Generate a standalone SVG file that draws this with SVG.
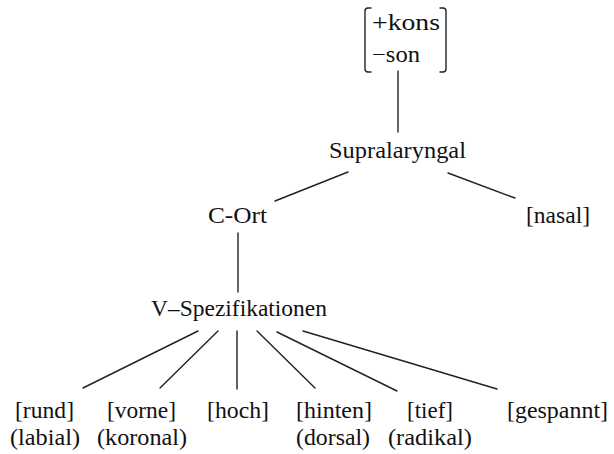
<svg xmlns="http://www.w3.org/2000/svg" width="614" height="454" viewBox="0 0 614 454">
  <style>
    text { font-family: "Liberation Serif", "Times New Roman", serif; font-size: 22.5px; fill: #111; }
    .edge { stroke: #222; stroke-width: 1.4; fill: none; stroke-linecap: round; }
  </style>
  <rect width="614" height="454" fill="#fff"/>

  <g id="connectors">
    <line class="edge" x1="398" y1="71" x2="398" y2="132"/>
    <line class="edge" x1="348" y1="172" x2="275" y2="201"/>
    <line class="edge" x1="448" y1="173" x2="515" y2="198"/>
    <line class="edge" x1="238" y1="233" x2="238" y2="292"/>
    <line class="edge" x1="198" y1="331" x2="83" y2="388"/>
    <line class="edge" x1="218" y1="331" x2="160" y2="388"/>
    <line class="edge" x1="237" y1="331" x2="237" y2="389"/>
    <line class="edge" x1="257" y1="331" x2="315" y2="388"/>
    <line class="edge" x1="277" y1="332" x2="397" y2="391"/>
    <line class="edge" x1="303" y1="331" x2="497" y2="389"/>
  </g>

  <g id="matrix">
    <path class="edge" d="M371 8 H368 Q365 8 365 11 V69 Q365 72 368 72 H371"/>
    <path class="edge" d="M440 8 H443 Q446 8 446 11 V69 Q446 72 443 72 H440"/>
    <text x="372" y="30" textLength="68" lengthAdjust="spacingAndGlyphs">+kons</text>
    <text x="372" y="62" textLength="48" lengthAdjust="spacingAndGlyphs">−son</text>
  </g>

  <g id="supralaryngal"><text x="329" y="158" textLength="137" lengthAdjust="spacingAndGlyphs">Supralaryngal</text></g>
  <g id="c-ort"><text x="208" y="223" textLength="59" lengthAdjust="spacingAndGlyphs">C-Ort</text></g>
  <g id="nasal"><text x="526" y="223" textLength="64" lengthAdjust="spacingAndGlyphs">[nasal]</text></g>
  <g id="v-spez"><text x="151" y="316" textLength="176" lengthAdjust="spacingAndGlyphs">V–Spezifikationen</text></g>

  <g id="rund">
    <text x="15" y="418" textLength="59" lengthAdjust="spacingAndGlyphs">[rund]</text>
    <text x="10" y="445" textLength="70" lengthAdjust="spacingAndGlyphs">(labial)</text>
  </g>
  <g id="vorne">
    <text x="107" y="418" textLength="69" lengthAdjust="spacingAndGlyphs">[vorne]</text>
    <text x="97" y="445" textLength="90" lengthAdjust="spacingAndGlyphs">(koronal)</text>
  </g>
  <g id="hoch"><text x="207" y="418" textLength="62" lengthAdjust="spacingAndGlyphs">[hoch]</text></g>
  <g id="hinten">
    <text x="296" y="418" textLength="76" lengthAdjust="spacingAndGlyphs">[hinten]</text>
    <text x="296" y="445" textLength="74" lengthAdjust="spacingAndGlyphs">(dorsal)</text>
  </g>
  <g id="tief">
    <text x="407" y="418" textLength="46" lengthAdjust="spacingAndGlyphs">[tief]</text>
    <text x="388" y="445" textLength="84" lengthAdjust="spacingAndGlyphs">(radikal)</text>
  </g>
  <g id="gespannt"><text x="507" y="418" textLength="101" lengthAdjust="spacingAndGlyphs">[gespannt]</text></g>
</svg>
